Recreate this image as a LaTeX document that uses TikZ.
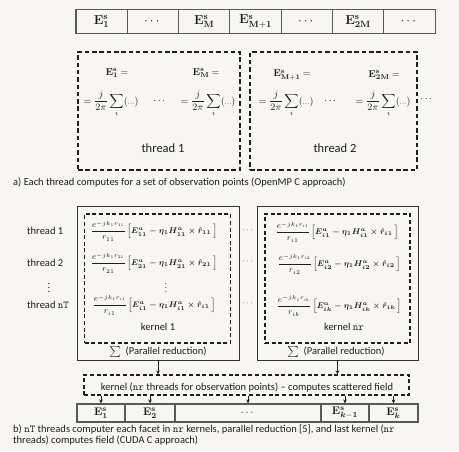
\RequirePackage{fix-cm}
\documentclass[tikz,border=0pt]{standalone}
\usepackage{amsmath}
\usepackage{bm}
\usepackage[no-math]{fontspec}
\setmainfont{Carlito}
\usetikzlibrary{arrows.meta}
\definecolor{bg}{RGB}{247,246,243}
\definecolor{ink}{RGB}{30,30,30}
\newcommand{\tform}{$\displaystyle=\frac{j}{2\pi}\sum_{i}(\mkern-1mu{\scriptstyle\dots}\mkern-1mu)$}
\newcommand{\kform}[1]{$\displaystyle\frac{e^{-jk_1r_{#1}}}{r_{#1}}$\,{\boldmath$\displaystyle\Bigl[\bm{E}^a_{#1}-\bm{\eta}_1\bm{H}^a_{#1}\times\hat{\bm{r}}_{#1}\,\Bigr]$}}
\newcommand{\Es}[1]{$\mathbf{E}^{\mathbf{s}}_{#1}$}
\begin{document}
\begin{tikzpicture}[x=1pt,y=-1pt,
  every node/.style={text=ink, inner sep=0pt},
  topcell/.style={draw=black!65, line width=1.1pt, minimum width=51.3pt, minimum height=23.5pt, font=\fontsize{13}{15}\selectfont},
  botcell/.style={draw=black!65, line width=1.1pt, minimum height=18pt, font=\fontsize{11}{13}\selectfont},
  tbox/.style={draw=ink, line width=1.3pt, dash pattern=on 4.5pt off 2.8pt},
  kdash/.style={draw=ink, line width=1.2pt, dash pattern=on 4pt off 2.6pt},
  kout/.style={draw=black!80, line width=0.9pt},
  small/.style={font=\fontsize{10}{12}\selectfont},
  tf/.style={font=\fontsize{9.8}{12}\selectfont},
  kf/.style={font=\fontsize{8.3}{10}\selectfont},
  lab/.style={font=\fontsize{10.5}{12}\selectfont},
  arr/.style={-{Stealth[length=4pt,width=3.6pt]}, line width=0.8pt, draw=ink}]
\useasboundingbox (0,0) rectangle (459,451);
\fill[bg] (0,0) rectangle (459,451);
\clip (0,0) rectangle (459,451);

% ---------- part a: top row ----------
\node[topcell] (t1) at (101.6,21.5) {\Es{\mathbf{1}}};
\node[topcell] (t2) at (152.9,21.5) {$\cdots$};
\node[topcell] (t3) at (204.2,21.5) {\Es{\mathbf{M}}};
\node[topcell] (t4) at (255.5,21.5) {\Es{\mathbf{M+1}}};
\node[topcell] (t5) at (306.8,21.5) {$\cdots$};
\node[topcell] (t6) at (358.1,21.5) {\Es{\mathbf{2M}}};
\node[topcell] (t7) at (409.4,21.5) {$\cdots$};

% thread boxes
\node[tbox, minimum width=162pt, minimum height=118pt] (th1) at (159,111) {};
\node[tbox, minimum width=167pt, minimum height=118pt] (th2) at (333.5,111) {};

\node[small] (e1) at (117,73) {\Es{\mathbf{1}} $=$};
\node[small] (eM) at (206,73) {\Es{\mathbf{M}} $=$};
\node[tf] (f1) at (111,104) {\tform};
\node[tf] (d1) at (160,101) {$\cdots$};
\node[tf] (f2) at (208,104) {\tform};
\node[lab, font=\fontsize{12.5}{14}\selectfont] (l1) at (163,148) {thread 1};

\node[small] (eM1) at (292,75) {\Es{\mathbf{M+1}} $=$};
\node[small] (e2M) at (384,75) {\Es{\mathbf{2M}} $=$};
\node[tf] (f3) at (286,104) {\tform};
\node[tf] (d2) at (331,101) {$\cdots$};
\node[tf] (f4) at (383,104) {\tform};
\node[lab, font=\fontsize{12.5}{14}\selectfont] (l2) at (335,148) {thread 2};
\node[tf] (d3) at (427,99) {$\cdots$};

\node[lab, anchor=west] (capa) at (13,183) {a) Each thread computes for a set of observation points (OpenMP C approach)};

% ---------- part b ----------
\node[kout, minimum width=162pt, minimum height=154pt] (k1o) at (158,283) {};
\node[kout, minimum width=161pt, minimum height=154pt] (kno) at (337.5,283) {};
\node[kdash, minimum width=146pt, minimum height=129pt] (k1i) at (157.5,278.5) {};
\node[kdash, minimum width=145pt, minimum height=129pt] (kni) at (337.5,278.5) {};

\node[lab, anchor=west] (th1l) at (27,231) {thread 1};
\node[lab, anchor=west] (th2l) at (27,263) {thread 2};
\node[lab] (thdl) at (49,285) {$\vdots$};
\node[lab, anchor=west] (thnl) at (27,305) {thread \texttt{nT}};

\node[kf] (r11) at (154,231) {\kform{11}};
\node[kf] (r21) at (154,263) {\kform{21}};
\node[kf] (rvd) at (166,285) {$\vdots$};
\node[kf] (ri1) at (154,305) {\kform{i1}};
\node[lab] (k1t) at (158,327) {kernel 1};
\node[lab] (k1s) at (158,352) {$\sum$\ \ (Parallel reduction)};

\node[kf] (s1) at (248.5,231) {$\cdots$};
\node[kf] (s2) at (248.5,262) {$\cdots$};
\node[kf] (s3) at (248.5,304) {$\cdots$};

\node[kf] (q1) at (337,232) {\kform{i1}};
\node[kf] (q2) at (339,264) {\kform{i2}};
\node[kf] (q3) at (339,306) {\kform{ik}};
\node[lab] (knt) at (344,327) {kernel \texttt{nr}};
\node[lab] (kns) at (336,352) {$\sum$\ \ (Parallel reduction)};

\node[kdash, minimum width=325pt, minimum height=20pt] (kb) at (246.5,385) {};
\node[lab] (kbt) at (247,388) {kernel (\texttt{nr} threads for observation points) – computes scattered field};

\node[botcell, minimum width=48pt] (c1) at (101,413) {\Es{\mathbf{1}}};
\node[botcell, minimum width=50pt] (c2) at (150,413) {\Es{\mathbf{2}}};
\node[botcell, minimum width=146pt] (c3) at (248,413) {$\cdots$};
\node[botcell, minimum width=48pt] (c4) at (345,413) {\Es{\bm{k}-\mathbf{1}}};
\node[botcell, minimum width=49pt] (c5) at (393.5,413) {\Es{\bm{k}}};

\draw[arr] (k1o.south) -- (k1o.south |- kb.north);
\draw[arr] (kno.south) -- (kno.south |- kb.north);
\foreach \c in {c1,c2,c3,c4,c5}
  \draw[arr] (\c.north |- kb.south) -- (\c.north);

\node[lab, anchor=north west, align=left] (capb) at (13,425) {b) \texttt{nT} threads computer each facet in \texttt{nr} kernels, parallel reduction [5], and last kernel (\texttt{nr}\\[-1pt]threads) computes field (CUDA C approach)};
\end{tikzpicture}
\end{document}
